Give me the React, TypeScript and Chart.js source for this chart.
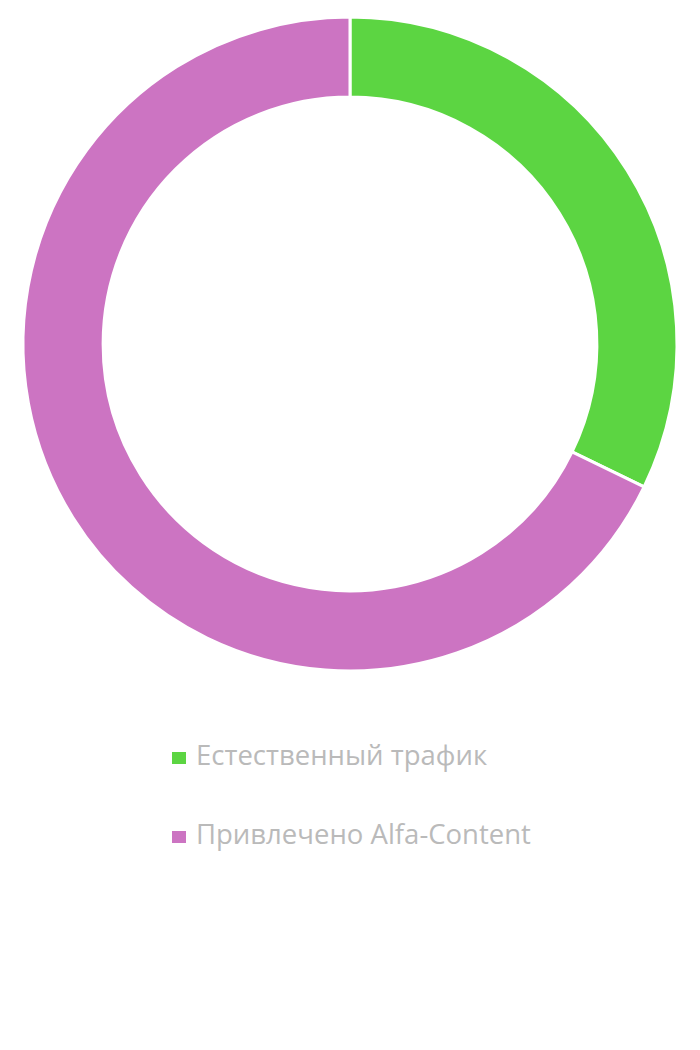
import React, { useEffect, useRef } from "react";
import { Chart, registerables } from "chart.js";

Chart.register(...registerables);

const labels = ["Естественный трафик", "Привлечено Alfa-Content"];
const values = [32.2, 67.8];
const colors = ["#5cd542", "#cc74c2"];

export default function App() {
  const ref = useRef<HTMLCanvasElement | null>(null);
  useEffect(() => {
    if (!ref.current) return;
    const chart = new Chart(ref.current, {
      type: "doughnut",
      data: {
        labels,
        datasets: [
          {
            data: values,
            backgroundColor: colors,
            borderColor: "#ffffff",
            borderWidth: 3,
          },
        ],
      },
      options: {
        responsive: false,
        animation: false,
        cutout: "75.5%",
        layout: { padding: { top: 7.5, left: 13.5, right: 13.5, bottom: 15.5 } },
        plugins: {
          legend: { display: false },
          tooltip: { enabled: false },
        },
      },
    });
    return () => chart.destroy();
  }, []);

  return (
    <div style={{ position: "relative", width: 684, height: 1034 }}>
      <canvas ref={ref} width={684} height={680} style={{ display: "block" }} />
      {labels.map((l, i) => (
        <React.Fragment key={l}>
          <span
            style={{
              position: "absolute",
              left: 164,
              top: 744 + i * 79,
              width: 14,
              height: 12,
              background: colors[i],
            }}
          />
          <span
            style={{
              position: "absolute",
              left: 188,
              top: 733 + i * 79,
              lineHeight: 1,
              fontFamily: "'Open Sans', sans-serif",
              fontSize: 27.5,
              color: "#bababa",
              whiteSpace: "nowrap",
            }}
          >
            {l}
          </span>
        </React.Fragment>
      ))}
    </div>
  );
}
